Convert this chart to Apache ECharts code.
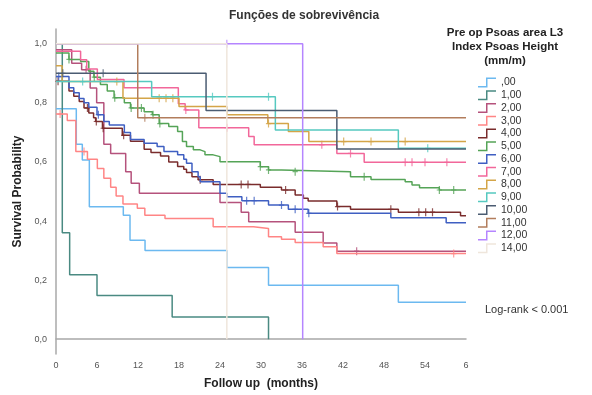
<!DOCTYPE html>
<html>
<head>
<meta charset="utf-8">
<script src="https://cdn.jsdelivr.net/npm/echarts@6/dist/echarts.min.js"></script>
<style>
  html, body { margin: 0; padding: 0; background: #fff; }
  #chart { width: 592px; height: 395px; }
</style>
</head>
<body>
<div id="chart"></div>
<script>
// groups (Pre op Psoas area L3 Index Psoas Height)
var groupNames = [',00', '1,00', '2,00', '3,00', '4,00', '5,00', '6,00', '7,00', '8,00', '9,00', '10,00', '11,00', '12,00', '14,00'];
var groupColors = ['#6cb9f0', '#4a8a82', '#b5527c', '#ff8585', '#7a2c2c', '#55a457', '#3f5fc2', '#f2679a', '#d4a548', '#56c9c0', '#4b5c72', '#b27d5c', '#b585ff', '#efe6dc'];
var xTickLabels = ['0', '6', '12', '18', '24', '30', '36', '42', '48', '54', '6'];
var yTickValues = [0, 0.2, 0.4, 0.6, 0.8, 1.0];

// Kaplan-Meier steps: [month, survival]
var km00 = [[0, 0.78], [2.97, 0.66], [3.85, 0.607], [4.88, 0.448], [9.85, 0.42], [10.83, 0.335], [13.03, 0.30], [25.0, 0.243], [31.1, 0.183], [50.1, 0.125], [60, 0.125]];
var km01 = [[0, 1.0], [0.92, 0.36], [2.0, 0.218], [6.0, 0.148], [17.0, 0.075], [31.1, 0]];
var km02 = [[0, 0.98], [2.3, 0.934], [3.75, 0.912], [5.0, 0.85], [5.95, 0.80], [7.0, 0.66], [8.0, 0.629], [10.2, 0.567], [11.0, 0.528], [12.2, 0.494], [24.0, 0.463], [27.1, 0.43], [28.2, 0.398], [35.0, 0.362], [39.1, 0.326], [41.1, 0.298], [60, 0.298]];
var km03 = [[0, 0.762], [1.65, 0.74], [2.9, 0.635], [4.6, 0.609], [6.05, 0.578], [7.0, 0.545], [8.0, 0.514], [8.8, 0.485], [9.8, 0.458], [11.9, 0.443], [13.0, 0.42], [15.95, 0.409], [23.0, 0.381], [28.9, 0.375], [31.1, 0.347], [33.0, 0.338], [35.0, 0.327], [39.1, 0.313], [41.1, 0.29], [60, 0.29]];
var km04 = [[0, 0.873], [1.9, 0.84], [2.6, 0.822], [3.4, 0.805], [4.1, 0.783], [4.8, 0.766], [5.5, 0.75], [5.8, 0.737], [6.8, 0.714], [9.7, 0.69], [10.9, 0.67], [12.9, 0.643], [13.9, 0.632], [15.3, 0.62], [16.5, 0.60], [17.8, 0.585], [18.7, 0.575], [19.1, 0.564], [19.9, 0.55], [20.8, 0.54], [23.0, 0.524], [29.9, 0.514], [33.0, 0.505], [35.0, 0.488], [36.2, 0.477], [36.9, 0.468], [41.1, 0.449], [43.1, 0.44], [50.1, 0.43], [59.2, 0.418], [60, 0.418]];
var km05 = [[0, 0.969], [1.9, 0.947], [3.6, 0.94], [4.8, 0.907], [5.55, 0.887], [6.5, 0.862], [7.5, 0.84], [8.5, 0.817], [10.0, 0.80], [10.9, 0.783], [12.9, 0.77], [14.1, 0.76], [15.1, 0.73], [16.5, 0.72], [17.8, 0.703], [18.5, 0.669], [19.1, 0.652], [20.1, 0.641], [21.1, 0.635], [21.8, 0.624], [23.0, 0.618], [24.0, 0.601], [29.9, 0.584], [31.1, 0.573], [33.0, 0.567], [43.1, 0.55], [46.1, 0.541], [51.1, 0.533], [52.1, 0.522], [53.2, 0.513], [56.1, 0.505], [60, 0.505]];
var km06 = [[0, 0.889], [1.9, 0.851], [2.6, 0.834], [3.4, 0.815], [4.1, 0.80], [4.8, 0.785], [6.0, 0.76], [7.0, 0.737], [7.8, 0.725], [10.0, 0.70], [10.9, 0.676], [12.9, 0.663], [14.8, 0.652], [15.8, 0.635], [17.8, 0.624], [18.7, 0.609], [19.1, 0.596], [19.9, 0.567], [20.8, 0.55], [21.1, 0.533], [24.0, 0.494], [25.0, 0.482], [27.2, 0.469], [31.1, 0.454], [34.0, 0.44], [36.9, 0.426], [49.0, 0.411], [57.1, 0.394], [60, 0.394]];
var km07 = [[0, 0.975], [3.6, 0.946], [4.5, 0.915], [6.05, 0.879], [9.95, 0.851], [17.9, 0.797], [18.9, 0.776], [20.9, 0.716], [28.2, 0.686], [29.0, 0.658], [41.1, 0.629], [45.1, 0.599], [60, 0.599]];
var km08 = [[0, 0.926], [0.9, 0.872], [9.8, 0.816], [18.0, 0.788], [25.0, 0.76], [31.0, 0.73], [34.0, 0.703], [37.0, 0.669], [60, 0.669]];
var km09 = [[0, 0.872], [14.0, 0.821], [32.1, 0.708], [50.1, 0.646], [60, 0.646]];
var km10 = [[0, 0.90], [21.96, 0.774], [41.1, 0.644], [60, 0.644]];
var km11 = [[0, 1.0], [11.96, 0.75], [60, 0.75]];
var km12 = [[0, 1.0], [36.1, 0]];
var km14 = [[0, 1.0], [25.0, 0]];

// censored times (months)
var cens00 = [];
var cens01 = [];
var cens02 = [4.4, 44.0];
var cens03 = [0.6, 4.1, 58.2];
var cens04 = [0.3, 4.6, 5.9, 6.9, 9.9, 21.1, 27.1, 28.1, 33.6, 41.2, 49.0, 53.1, 54.1, 55.1];
var cens05 = [1.9, 5.6, 8.6, 11.0, 12.5, 14.2, 15.2, 29.9, 31.1, 35.0, 45.1, 56.1, 58.2];
var cens06 = [0.4, 6.2, 27.9, 29.0, 33.0, 35.0, 37.0];
var cens07 = [19.0, 25.0, 38.9, 43.1, 51.1, 52.1, 54.0, 57.2];
var cens08 = [8.9, 15.1, 16.1, 17.1, 31.1, 42.1, 46.1, 51.1];
var cens09 = [3.9, 22.9, 31.1, 54.4];
var cens10 = [1.0, 6.9];
var cens11 = [13.0];
var cens12 = [25.0];
var cens14 = [];

var curves = [km00, km01, km02, km03, km04, km05, km06, km07, km08, km09, km10, km11, km12, km14];
var censors = [cens00, cens01, cens02, cens03, cens04, cens05, cens06, cens07, cens08, cens09, cens10, cens11, cens12, cens14];

function stepAt(curve, t) {
    var v = curve[0][1];
    for (var i = 0; i < curve.length; i++) {
        if (curve[i][0] <= t) v = curve[i][1];
    }
    return v;
}

var fontFamily = '"Liberation Sans", Arial, sans-serif';
var plusMark = 'path://M-0.6,-4H0.6V4H-0.6Z M-2.6,-0.6H2.6V0.6H-2.6Z';

var series = [];
groupNames.forEach(function (name, i) {
    series.push({
        name: name,
        type: 'line',
        step: 'end',
        data: curves[i],
        showSymbol: false,
        symbol: 'none',
        color: groupColors[i],
        lineStyle: { width: 1.5, color: groupColors[i] },
        z: 2 + i
    });
    series.push({
        name: name + ' censored',
        type: 'scatter',
        data: censors[i].map(function (t) { return [t, stepAt(curves[i], t)]; }),
        symbol: plusMark,
        symbolSize: [5.2, 8],
        itemStyle: { color: groupColors[i] },
        z: 2 + i
    });
});

var myChart = echarts.init(document.getElementById('chart'));

var option = {
    animation: false,
    backgroundColor: '#fff',
    textStyle: { fontFamily: fontFamily },
    grid: { left: 56, right: 126, top: 29, bottom: 41 },
    xAxis: {
        type: 'value',
        min: 0,
        max: 60,
        interval: 6,
        name: 'Follow up  (months)',
        nameLocation: 'middle',
        nameGap: 24,
        nameTextStyle: { fontSize: 12, fontWeight: 'bold', color: '#222' },
        axisLine: { lineStyle: { color: '#a8a8a8', width: 1.5 } },
        axisTick: { show: false },
        splitLine: { show: false },
        axisLabel: {
            fontSize: 9, color: '#555', margin: 7,
            formatter: function (v) { return xTickLabels[Math.round(v / 6)]; }
        }
    },
    yAxis: {
        type: 'value',
        min: -0.05,
        max: 1.05,
        name: 'Survival Probability',
        nameLocation: 'middle',
        nameGap: 24,
        nameTextStyle: { fontSize: 12, fontWeight: 'bold', color: '#222' },
        axisLine: { show: true, lineStyle: { color: '#a8a8a8', width: 1.5 } },
        axisTick: { show: false },
        splitLine: { show: false },
        axisLabel: {
            fontSize: 9, color: '#555', margin: 9,
            customValues: yTickValues,
            formatter: function (v) { return v.toFixed(1).replace('.', ','); }
        }
    },
    legend: {
        data: groupNames,
        orient: 'vertical',
        left: 478,
        top: 77,
        padding: 0,
        itemWidth: 18,
        itemHeight: 10,
        itemGap: 1.75,
        icon: 'path://M0,8.5H8V0H18V1.5H9.5V10H0Z',
        selectedMode: false,
        textStyle: { fontSize: 10.5, color: '#333', lineHeight: 10 }
    },
    graphic: [
        {
            type: 'text', left: 229, top: 10,
            style: { text: 'Funções de sobrevivência', font: 'bold 12px ' + fontFamily, fill: '#333' }
        },
        {
            type: 'text', x: 505, y: 26,
            style: {
                text: 'Pre op Psoas area L3\nIndex Psoas Height\n(mm/m)',
                font: 'bold 11.5px ' + fontFamily, fill: '#222',
                align: 'center', lineHeight: 14
            }
        },
        {
            type: 'text', x: 485, y: 304,
            style: { text: 'Log-rank < 0.001', font: '11px ' + fontFamily, fill: '#333' }
        }
    ],
    series: series
};

myChart.setOption(option);
window.addEventListener('resize', function () {
    myChart.resize();
});
</script>
</body>
</html>
